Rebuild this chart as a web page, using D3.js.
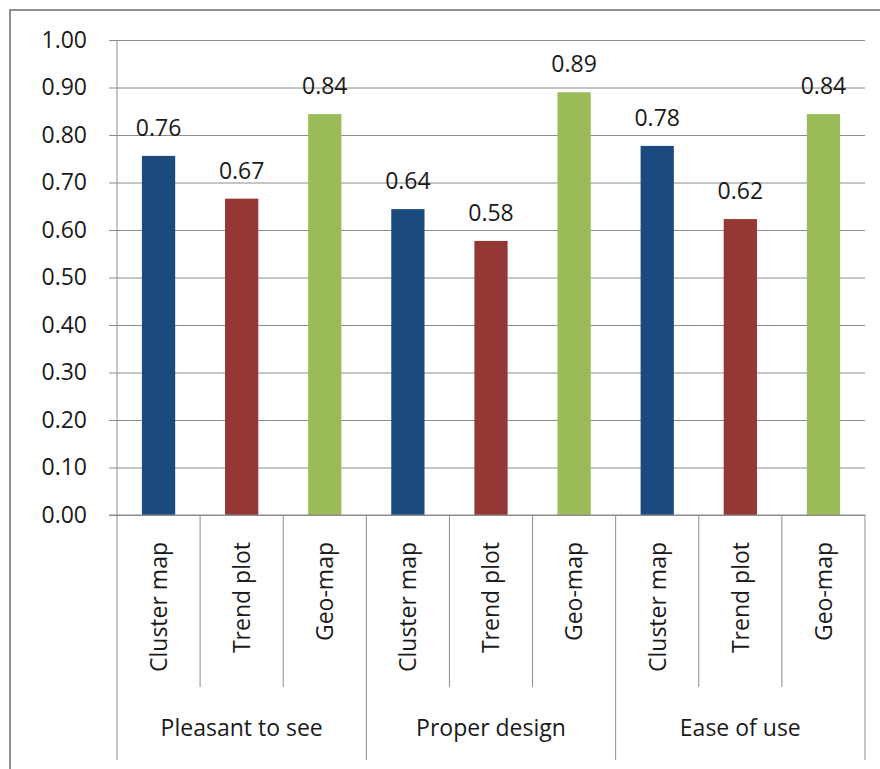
<!DOCTYPE html>
<html>
<head>
<meta charset="utf-8">
<script src="https://cdn.jsdelivr.net/npm/d3@7/dist/d3.min.js"></script>
<style>
  html, body { margin: 0; padding: 0; background: #fff; }
  svg { display: block; }
  text { font-family: "Open Sans", sans-serif; fill: #1a1a1a; }
</style>
</head>
<body>
<svg id="chart" width="880" height="769"></svg>
<script>
// Rating categories and the chart types that were compared in each
const groups = ["Pleasant to see", "Proper design", "Ease of use"];
const chartTypes = ["Cluster map", "Trend plot", "Geo-map"];

// Mean scores per group, one entry per chart type
const pleasantScores = [0.756, 0.666, 0.844];
const designScores = [0.644, 0.577, 0.890];
const easeScores = [0.777, 0.623, 0.844];

const yTicks = [0, 0.1, 0.2, 0.3, 0.4, 0.5, 0.6, 0.7, 0.8, 0.9, 1.0];
const typeColors = ["#1a4a7e", "#953735", "#9bbb59"];

const seriesByGroup = [pleasantScores, designScores, easeScores];
const rows = [];
groups.forEach((g, gi) => {
  chartTypes.forEach((t, ti) => {
    rows.push({ key: g + "|" + t, group: g, type: t, typeIndex: ti, value: seriesByGroup[gi][ti] });
  });
});

const svg = d3.select("#chart");
const plotLeft = 117, plotRight = 865, plotTop = 40, plotBottom = 515;
const innerDividerEnd = 687, groupDividerEnd = 760;
const fontSize = 23;

// Outer chart border
svg.append("rect")
  .attr("x", 10).attr("y", 10)
  .attr("width", 900).attr("height", 900)
  .attr("fill", "none")
  .attr("stroke", "#8f8f8f")
  .attr("stroke-width", 2);

const x = d3.scaleBand().domain(rows.map(d => d.key)).range([plotLeft, plotRight]).padding(0);
const y = d3.scaleLinear().domain([0, 1]).range([plotBottom, plotTop]);
const fmt = d3.format(".2f");

// Horizontal gridlines
svg.append("g")
  .attr("transform", `translate(${plotLeft},0)`)
  .call(d3.axisLeft(y).tickValues(yTicks).tickSize(-(plotRight - plotLeft)).tickFormat(""))
  .call(g => g.select(".domain").remove())
  .call(g => g.selectAll("line").attr("stroke", "#8c8c8c").attr("stroke-width", 1));

// Value axis with outside tick marks and labels
svg.append("g")
  .attr("transform", `translate(${plotLeft},0)`)
  .call(d3.axisLeft(y).tickValues(yTicks).tickSize(8).tickPadding(22).tickFormat(fmt))
  .call(g => g.select(".domain").remove())
  .call(g => g.selectAll("line").attr("stroke", "#8c8c8c"))
  .call(g => g.selectAll("text")
    .attr("font-size", fontSize)
    .attr("font-family", "'Open Sans', sans-serif")
    .attr("fill", "#1a1a1a"));

// Bars
const barW = x.bandwidth() * 0.4;
svg.append("g").selectAll("rect")
  .data(rows)
  .join("rect")
  .attr("x", d => x(d.key) + (x.bandwidth() - barW) / 2)
  .attr("y", d => y(d.value))
  .attr("width", barW)
  .attr("height", d => y(0) - y(d.value))
  .attr("fill", d => typeColors[d.typeIndex]);

// Value labels above bars
svg.append("g").selectAll("text")
  .data(rows)
  .join("text")
  .attr("x", d => x(d.key) + x.bandwidth() / 2)
  .attr("y", d => y(d.value) - 20)
  .attr("text-anchor", "middle")
  .attr("font-size", fontSize)
  .text(d => fmt(d.value));

// Category axis lines
const axisG = svg.append("g").attr("stroke", "#8c8c8c").attr("stroke-width", 1);
axisG.append("line")
  .attr("x1", plotLeft).attr("x2", plotLeft)
  .attr("y1", plotTop).attr("y2", groupDividerEnd);
axisG.append("line")
  .attr("x1", plotLeft - 8).attr("x2", plotRight)
  .attr("y1", plotBottom).attr("y2", plotBottom);
rows.forEach((d, i) => {
  if (i === 0) return;
  const isGroupEdge = i % chartTypes.length === 0;
  axisG.append("line")
    .attr("x1", x(d.key)).attr("x2", x(d.key))
    .attr("y1", plotBottom).attr("y2", isGroupEdge ? groupDividerEnd : innerDividerEnd);
});
axisG.append("line")
  .attr("x1", plotRight).attr("x2", plotRight)
  .attr("y1", plotBottom).attr("y2", groupDividerEnd);

// Rotated chart-type labels
svg.append("g").selectAll("text")
  .data(rows)
  .join("text")
  .attr("transform", d => `translate(${x(d.key) + x.bandwidth() / 2},542) rotate(-90)`)
  .attr("text-anchor", "end")
  .attr("dy", "0.36em")
  .attr("font-size", fontSize)
  .text(d => d.type);

// Group labels
const groupW = (plotRight - plotLeft) / groups.length;
svg.append("g").selectAll("text")
  .data(groups)
  .join("text")
  .attr("x", (d, i) => plotLeft + groupW * (i + 0.5))
  .attr("y", 736)
  .attr("text-anchor", "middle")
  .attr("font-size", fontSize)
  .text(d => d);
</script>
</body>
</html>
